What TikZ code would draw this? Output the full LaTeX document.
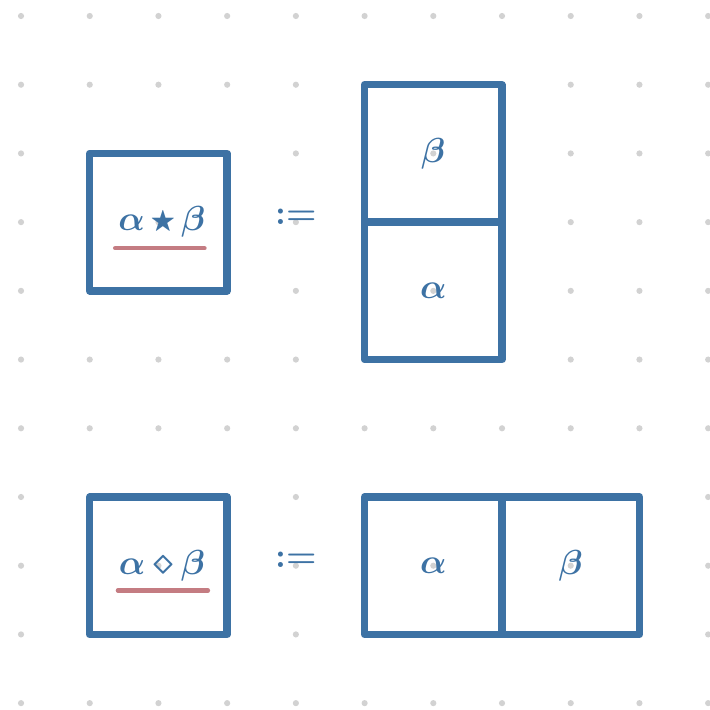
\documentclass[tikz,border=0pt]{standalone}
\usepackage{amsmath,amssymb,bm}
\usepackage{graphicx}
\usepackage{xcolor}
\usepackage{tikz}
\usetikzlibrary{positioning,calc}
\definecolor{cInk} {HTML}{3D72A4}
\definecolor{cMark}{HTML}{C47C82}
\definecolor{cDot} {HTML}{D2D2D2}

\begin{document}
\begin{tikzpicture}[x=1cm,y=-1cm,font=\fontsize{15}{18}\selectfont,
    cell/.style={draw=cInk,line width=3.1pt,line join=round,minimum size=2cm,
      inner sep=0pt,outer sep=0pt,text=cInk},
    defn/.style={text=cInk},
    underln/.style={cMark,line width=1.8pt,line cap=round}]
  \useasboundingbox (-0.306,-0.233) rectangle (10.015,10.10);
  \foreach \i in {0,...,10}
    {\foreach \j in {0,...,10} {\fill[cDot] (\i,\j) circle (0.045);}}
  % vertical composite
  \node[cell] (vc) at (2,3) {};
  \node[text=cInk] (vcl) at ($(vc.center)+(0.05,0)$)
    {$\bm{\alpha}\mkern3mu\vcenter{\hbox{\scalebox{0.72}{$\bigstar$}}}\mkern3mu\bm{\beta}$};
  \draw[underln] ($(vc.center)+(-0.63,0.38)$) -- ($(vc.center)+(0.67,0.38)$);
  \node[defn] (vdef) at (4,2.92) {$\bm{:=}$};
  \node[cell] (vtop) at (6,2) {$\bm{\beta}$};
  \node[cell,below=0pt of vtop] (vbot) {$\bm{\alpha}$};
  % horizontal composite
  \node[cell] (hc) at (2,8) {};
  \node[text=cInk] (hcl) at ($(hc.center)+(0.05,0)$)
    {$\bm{\alpha}\mkern4mu\vcenter{\hbox{\scalebox{1.0}{$\bm{\diamond}$}}}\mkern4mu\bm{\beta}$};
  \draw[underln] ($(hc.center)+(-0.59,0.36)$) -- ($(hc.center)+(0.72,0.36)$);
  \node[defn] (hdef) at (4,7.92) {$\bm{:=}$};
  \node[cell] (hl) at (6,8) {$\bm{\alpha}$};
  \node[cell,right=0pt of hl] (hr) {$\bm{\beta}$};
\end{tikzpicture}
\end{document}
